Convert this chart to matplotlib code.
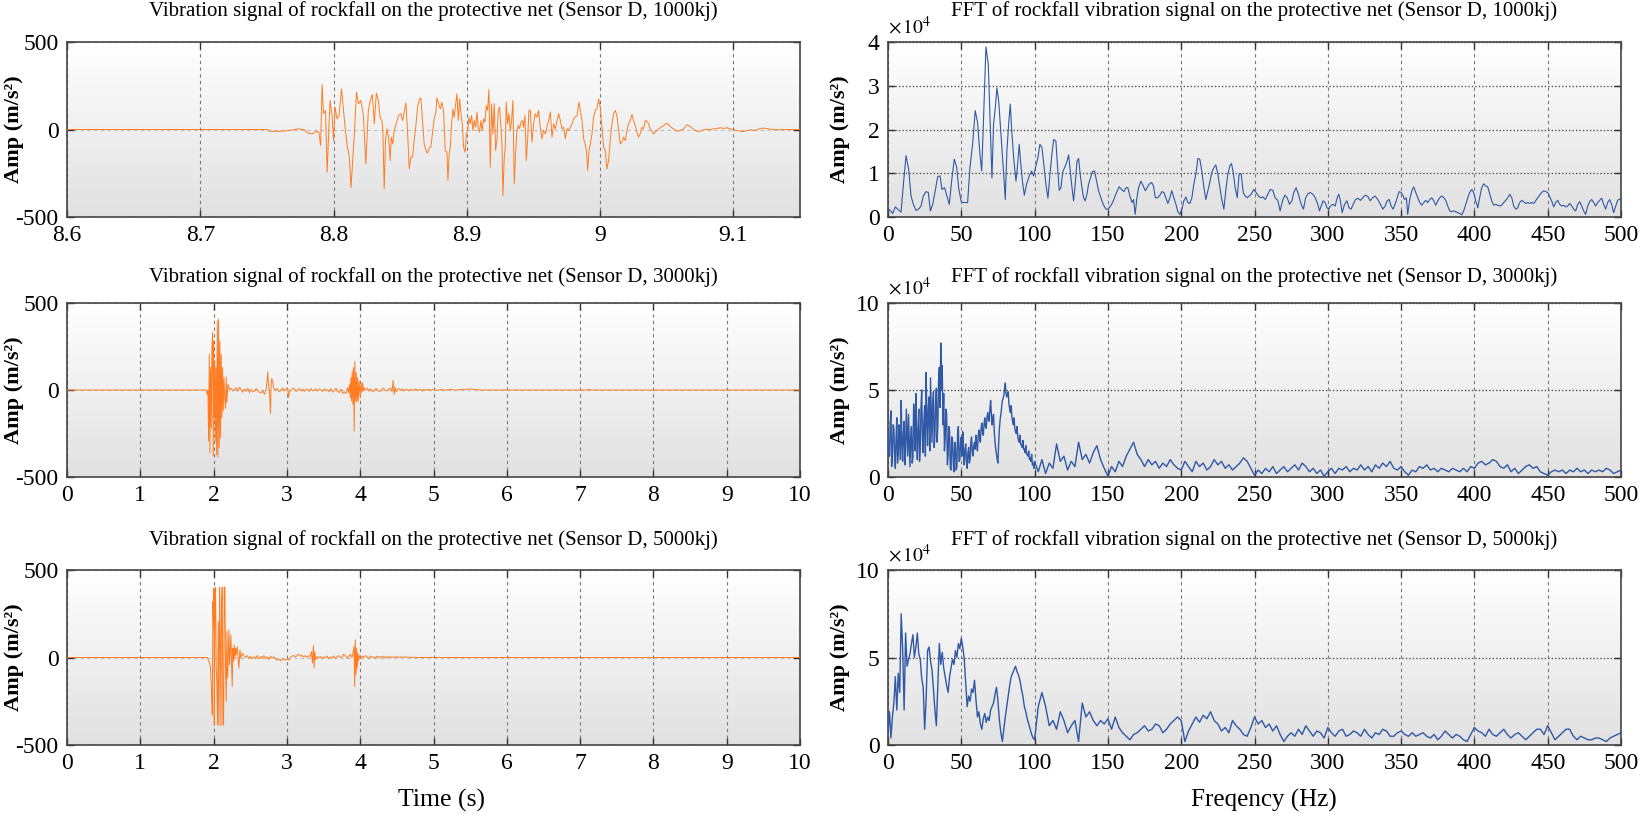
import numpy as np
import matplotlib.pyplot as plt
from matplotlib.colors import LinearSegmentedColormap

plt.rcParams['font.family'] = ['Liberation Serif', 'DejaVu Serif']
plt.rcParams['mathtext.fontset'] = 'stix'

# ---- vibration signal, 1000kj (time in s, amplitude in m/s^2)
t_1000 = [8.600, 8.750, 8.752, 8.759, 8.766, 8.774, 8.778, 8.781, 8.784, 8.787, 8.789,
          8.7903, 8.7914, 8.7925, 8.7940, 8.7952, 8.7963, 8.7974, 8.7989, 8.8000, 8.8011,
          8.8026, 8.8041, 8.8060, 8.8075, 8.8090, 8.8104, 8.8119, 8.8131, 8.8145, 8.8157,
          8.8172, 8.8187, 8.8205, 8.8224, 8.8242, 8.8261, 8.8276, 8.8291, 8.8306, 8.8321,
          8.8336, 8.8350, 8.8363, 8.8370, 8.8380, 8.8390, 8.8400, 8.8413, 8.8425, 8.8433,
          8.8445, 8.8455, 8.8470, 8.8488, 8.8505, 8.8518, 8.8530, 8.8543, 8.8555, 8.8568,
          8.8580, 8.8593, 8.8605, 8.8618, 8.8630, 8.8643, 8.8655, 8.8668, 8.8680, 8.8693,
          8.8705, 8.8718, 8.8730, 8.8743, 8.8755, 8.8768, 8.8776, 8.8788, 8.8801, 8.8813,
          8.8826, 8.8838, 8.8851, 8.8858, 8.8866, 8.8876, 8.8886, 8.8896, 8.8906, 8.8916,
          8.8926, 8.8936, 8.8946, 8.8956, 8.8966, 8.8976, 8.8988, 8.8996, 8.9006, 8.9016,
          8.9026, 8.9036, 8.9046, 8.9056, 8.9066, 8.9076, 8.9086, 8.9096, 8.9106, 8.9116,
          8.9126, 8.9136, 8.9146, 8.9156, 8.9166, 8.9176, 8.9186, 8.9196, 8.9206, 8.9216,
          8.9226, 8.9236, 8.9246, 8.9256, 8.9264, 8.9271, 8.9281, 8.9289, 8.9296, 8.9306,
          8.9316, 8.9326, 8.9336, 8.9346, 8.9356, 8.9366, 8.9376, 8.9386, 8.9396, 8.9406,
          8.9416, 8.9426, 8.9436, 8.9446, 8.9456, 8.9466, 8.9476, 8.9489, 8.9501, 8.9514,
          8.9526, 8.9539, 8.9551, 8.9564, 8.9576, 8.9589, 8.9601, 8.9614, 8.9627, 8.9639,
          8.9652, 8.9664, 8.9677, 8.9689, 8.9702, 8.9714, 8.9727, 8.9739, 8.9752, 8.9764,
          8.9777, 8.9789, 8.9802, 8.9814, 8.9827, 8.9842, 8.9852, 8.9864, 8.9877, 8.9887,
          8.9897, 8.9907, 8.9917, 8.9927, 8.9939, 8.9951, 8.9964, 8.9976, 8.9989, 9.0001,
          9.0014, 9.0026, 9.0039, 9.0051, 9.0064, 9.0076, 9.0089, 9.0101, 9.0114, 9.0126,
          9.0139, 9.0151, 9.0164, 9.0176, 9.0189, 9.0201, 9.0214, 9.0226, 9.0239, 9.0251,
          9.0264, 9.0276, 9.0289, 9.0301, 9.0314, 9.0326, 9.0339, 9.0351, 9.0364, 9.0376,
          9.0389, 9.0401, 9.0414, 9.0426, 9.0452, 9.0477, 9.0502, 9.0527, 9.0552, 9.0577,
          9.0602, 9.0627, 9.0652, 9.0677, 9.0702, 9.0727, 9.0752, 9.0777, 9.0802, 9.0827,
          9.0852, 9.0877, 9.0902, 9.0927, 9.0952, 9.0977, 9.1002, 9.1027, 9.1052, 9.1077,
          9.1102, 9.1127, 9.1152, 9.1177, 9.1202, 9.1227, 9.1278, 9.1328, 9.1378, 9.1428,
          9.1500]
a_1000 = [0, 0, -10, -11, -6, 4, -2, -21, -25, -10, -15,
          -91, 257, 90, 109, -244, -25, 166, 80, -63, 128,
          61, 80, 232, 109, -15, -101, -158, -333, -158, -15,
          213, 147, 166, 80, -196, 109, 166, 200, 32, 208,
          166, 67, 51, -6, -339, -63, 4, -44, -177, -44,
          -82, -6, 32, 80, 90, 51, 99, 152, -6, -225,
          -158, -158, -63, 23, 128, 170, 181, 42, -82, -120,
          -135, -105, -101, -15, 61, 99, 181, 147, 118, 156,
          99, -120, -130, -291, -158, -101, 32, 118, 70, 143,
          204, 51, 175, 90, 32, -101, -130, -25, -6, 70,
          32, 80, -6, 51, 13, 99, 4, -15, 51, -6,
          61, 42, 137, 109, 229, -215, 147, -25, 147, -120,
          -63, 109, 128, 13, -91, -377, -158, -101, 156, 32,
          90, -6, 51, 166, -310, -139, -6, 23, 4, 42,
          51, 13, 80, -177, -63, 109, 112, -72, 32, 90,
          70, 109, 13, -53, -6, -25, 13, 51, 99, -44,
          32, 4, 51, 90, 51, 4, 13, -53, 4, -6,
          13, 32, 61, 70, 80, 156, 109, 51, -53, -82,
          -120, -234, -120, -82, -25, 70, 109, 118, 175, 128,
          13, -101, -120, -225, -177, -63, 32, 90, 109, 80,
          -6, -82, -72, -44, -63, -6, 32, 51, 86, 51,
          23, -15, -44, -25, 13, 4, 51, 48, 32, 4,
          -10, -25, -15, -6, 10, 23, 36, 17, 2, -10,
          -6, 4, 27, 17, 0, -10, -10, -2, 2, -2,
          4, 6, 10, 6, 10, 4, -2, -6, -10, -11,
          -6, -2, -6, -2, 6, 8, 2, -2, 0, 0,
          0]

# ---- vibration signal, 3000kj
t_3000 = [0, 1.900, 1.914, 1.923, 1.932, 1.941, 1.950, 1.959, 1.968, 1.977, 1.986, 1.991,
          1.995, 2.000, 2.009, 2.014, 2.023, 2.032, 2.041, 2.050, 2.059, 2.068, 2.077,
          2.086, 2.095, 2.104, 2.113, 2.122, 2.132, 2.141, 2.150, 2.163, 2.172, 2.181,
          2.195, 2.218, 2.240, 2.263, 2.286, 2.308, 2.331, 2.354, 2.376, 2.399, 2.422,
          2.444, 2.467, 2.490, 2.512, 2.535, 2.558, 2.580, 2.603, 2.626, 2.649, 2.671,
          2.694, 2.717, 2.730, 2.739, 2.748, 2.762, 2.776, 2.785, 2.794, 2.807, 2.821,
          2.839, 2.857, 2.875, 2.898, 2.921, 2.943, 2.966, 2.989, 3.011, 3.020, 3.034,
          3.057, 3.080, 3.102, 3.125, 3.147, 3.170, 3.193, 3.215, 3.238, 3.261, 3.283,
          3.306, 3.329, 3.351, 3.374, 3.397, 3.420, 3.442, 3.465, 3.488, 3.510, 3.533,
          3.556, 3.578, 3.601, 3.624, 3.646, 3.669, 3.692, 3.714, 3.737, 3.760, 3.782,
          3.805, 3.828, 3.841, 3.855, 3.864, 3.873, 3.882, 3.891, 3.900, 3.909, 3.918,
          3.927, 3.937, 3.946, 3.955, 3.964, 3.973, 3.986, 4.000, 4.009, 4.023, 4.032,
          4.045, 4.054, 4.077, 4.100, 4.122, 4.145, 4.168, 4.190, 4.213, 4.236, 4.258,
          4.281, 4.304, 4.327, 4.349, 4.372, 4.395, 4.417, 4.435, 4.449, 4.463, 4.476,
          4.490, 4.508, 4.531, 4.553, 4.576, 4.599, 4.621, 4.644, 4.667, 4.690, 4.712,
          4.735, 4.758, 4.780, 4.803, 4.825, 4.848, 4.871, 4.893, 4.916, 4.939, 4.961,
          4.984, 5.007, 5.050, 5.100, 5.150, 5.188, 5.250, 5.300, 5.350, 5.415, 5.450,
          5.500, 5.550, 5.600, 5.642, 7.100, 7.120, 7.140, 10.0]
a_3000 = [0, 0, -25, -5, -294, 205, -361, 129, -217, 244, 330, -63,
          -380, 282, -159, 167, -294, 129, -371, 397, -386, 407, -332,
          282, -275, 205, -159, 129, -121, 71, -25, -106, 75, -73,
          33, 4, 10, -6, 4, 13, -6, 15, 2, -12, 6,
          -8, 10, -15, 4, -10, -6, 8, -2, -14, -15, -6,
          -25, 4, 52, 106, 33, -6, -136, 33, 67, 42, 10,
          -2, 8, 4, -10, 0, 12, -6, 8, 10, -44, -10,
          -2, 10, 6, -8, -2, 9, -6, 6, -9, 5, 2,
          -7, 8, -5, -2, 6, -6, 7, 0, -8, 6, -4,
          2, -9, 8, -12, -2, 10, -6, -15, 6, -20, -10,
          -21, 13, -15, 33, -44, 71, -63, 109, -83, 129, -236,
          163, -63, 100, -73, 71, -63, 52, -44, 42, -15, 42,
          -6, 13, -2, 10, -6, 6, -10, -2, 8, 2, -8,
          -6, 10, 6, -6, -2, 9, 10, -10, 56, -25, 17,
          -10, 2, 8, -2, 6, -6, 4, 2, -5, 6, -3,
          2, 6, -4, 4, 2, -6, 5, -2, 2, 4, -4,
          3, 2, -3, 4, -2, 2, 3, -2, 3, 2, 5,
          6, 4, 2, 0, 0, 4, 0, 0]

# ---- vibration signal, 5000kj
t_5000 = [0, 1.905, 1.914, 1.927, 1.946, 1.959, 1.973, 1.982, 1.991, 2.000, 2.005, 2.009,
          2.018, 2.027, 2.036, 2.045, 2.054, 2.064, 2.073, 2.082, 2.091, 2.100, 2.109,
          2.118, 2.127, 2.136, 2.145, 2.154, 2.163, 2.172, 2.182, 2.191, 2.200, 2.209,
          2.218, 2.227, 2.236, 2.245, 2.254, 2.263, 2.272, 2.281, 2.291, 2.300, 2.309,
          2.322, 2.336, 2.345, 2.359, 2.372, 2.390, 2.413, 2.436, 2.459, 2.481, 2.504,
          2.527, 2.549, 2.572, 2.595, 2.617, 2.640, 2.663, 2.686, 2.708, 2.731, 2.754,
          2.776, 2.799, 2.822, 2.844, 2.867, 2.890, 2.913, 2.935, 2.958, 2.981, 3.003,
          3.026, 3.049, 3.071, 3.094, 3.117, 3.140, 3.162, 3.185, 3.208, 3.230, 3.253,
          3.276, 3.298, 3.317, 3.335, 3.348, 3.362, 3.371, 3.380, 3.389, 3.412, 3.435,
          3.457, 3.480, 3.503, 3.526, 3.548, 3.571, 3.594, 3.616, 3.639, 3.662, 3.684,
          3.707, 3.730, 3.752, 3.775, 3.798, 3.820, 3.843, 3.866, 3.888, 3.902, 3.916,
          3.925, 3.934, 3.943, 3.952, 3.961, 3.970, 3.979, 3.993, 4.006, 4.025, 4.048,
          4.070, 4.093, 4.116, 4.138, 4.161, 4.184, 4.206, 4.229, 4.252, 4.274, 4.297,
          4.320, 4.342, 4.365, 4.388, 4.410, 4.433, 4.456, 4.478, 4.501, 4.524, 4.546,
          4.569, 4.592, 4.614, 4.637, 4.660, 4.682, 4.705, 4.750, 4.950, 4.960, 4.970,
          6.000, 6.020, 6.040, 10.0]
a_5000 = [0, 0, 0, -13, -32, -61, -213, -328, 320, 168, 396, -385,
          282, 402, -61, -156, -385, 206, -385, 402, 130, -389, 320,
          402, -385, -385, 402, 402, -61, -251, 149, -118, 15, 158,
          -42, 34, 130, -42, -166, 53, -23, 72, -4, 53, 15,
          63, -13, -61, 44, -4, 25, 11, 0, 11, -4, 6,
          -8, 4, -4, 11, -8, 6, -4, 11, -8, 4, -11,
          8, -4, 4, -8, -15, -8, -19, -13, -8, -15, -8,
          -15, 0, 8, 11, 4, 11, 19, 8, 11, 4, 11,
          0, 11, 4, 34, -32, 69, -61, 34, -13, 6, -4,
          6, -8, 4, 0, 8, -8, 4, -4, 8, -4, 4,
          11, 0, 4, 19, 11, -4, 4, 19, 0, 25, 63,
          -166, 101, -99, 53, -61, 25, -19, 11, -4, 8, 0,
          11, 4, -8, 8, 0, 4, -4, 8, -2, 6, 0,
          8, -4, 6, 0, 6, -2, 4, 0, 6, 0, 2,
          4, 0, 5, 0, 3, 0, 2, 0, 0, 3, 0,
          0, 3, 0, 0]

# ---- FFT, 1000kj (frequency in Hz, amplitude in 1e4 m/s^2)
f_1000 = [0.5, 1.8, 3.2, 5.0, 6.6, 8.9, 10.5, 12.3, 14.1, 15.7, 17.3, 19.1, 20.9, 22.5,
          24.1, 25.9, 27.5, 28.9, 30.5, 32.0, 33.9, 35.5, 36.8, 38.6, 40.0, 41.8, 43.4,
          45.2, 46.8, 48.2, 49.8, 50.9, 52.7, 54.3, 55.9, 57.7, 59.5, 61.1, 62.7, 63.9,
          65.2, 66.8, 68.4, 69.8, 70.9, 72.0, 73.2, 74.3, 75.5, 76.6, 77.7, 78.9, 80.0,
          81.1, 82.3, 83.4, 84.5, 85.9, 87.3, 88.4, 89.5, 90.7, 91.8, 93.0, 94.5, 96.4,
          98.0, 99.3, 100.9, 102.3, 103.6, 105.0, 106.4, 107.7, 109.1, 110.5, 111.8, 113.0,
          114.5, 115.7, 116.8, 118.0, 119.1, 120.5, 121.8, 123.2, 124.3, 125.5, 126.6,
          127.7, 128.9, 130.0, 131.1, 132.3, 133.4, 134.5, 135.7, 136.8, 138.2, 139.5,
          140.9, 142.3, 143.6, 145.2, 146.8, 148.6, 150.2, 151.8, 153.2, 154.5, 155.9,
          157.7, 159.3, 160.9, 162.3, 163.6, 165.0, 166.4, 167.5, 168.6, 169.8, 170.9,
          172.5, 174.1, 175.5, 176.8, 178.2, 179.8, 181.1, 182.3, 183.9, 185.5, 186.8,
          188.2, 189.5, 190.9, 192.3, 193.6, 195.0, 196.4, 197.7, 199.1, 200.5, 201.8,
          203.2, 204.5, 205.9, 207.3, 208.6, 210.0, 211.4, 212.7, 214.1, 215.5, 216.8,
          218.2, 219.5, 220.9, 222.3, 223.6, 225.0, 226.4, 227.7, 229.1, 230.5, 231.8,
          233.2, 234.3, 235.5, 236.8, 238.2, 239.5, 240.9, 242.3, 243.6, 245.0, 246.4,
          247.7, 249.5, 251.1, 252.7, 254.1, 255.7, 257.3, 259.1, 260.7, 262.5, 264.1,
          265.9, 267.5, 269.1, 270.7, 272.3, 273.9, 275.5, 276.8, 278.4, 280.0, 281.8,
          283.4, 284.8, 286.4, 288.0, 289.8, 291.4, 293.2, 294.3, 295.5, 296.8, 298.2,
          299.5, 300.7, 301.8, 303.4, 305.0, 306.4, 307.5, 308.6, 309.8, 311.4, 313.0,
          314.5, 315.9, 317.3, 318.9, 320.5, 322.3, 323.9, 325.5, 327.3, 328.9, 330.5,
          332.3, 334.1, 335.9, 337.5, 339.1, 340.5, 341.8, 343.2, 344.5, 345.9, 347.3,
          348.6, 350.0, 351.4, 352.3, 353.6, 354.5, 355.9, 357.3, 358.6, 360.0, 361.4,
          362.7, 364.1, 365.5, 366.8, 368.2, 369.5, 370.9, 372.3, 373.6, 375.0, 376.4,
          377.7, 379.1, 380.5, 381.8, 383.2, 384.5, 385.9, 387.3, 388.6, 390.0, 391.4,
          392.7, 394.1, 395.5, 396.8, 398.2, 399.5, 400.9, 402.3, 403.6, 405.0, 406.4,
          407.7, 409.1, 410.5, 411.8, 413.2, 414.5, 415.9, 417.3, 418.6, 420.0, 421.4,
          422.7, 424.1, 425.5, 426.8, 428.2, 429.5, 430.9, 432.3, 433.6, 435.0, 436.4,
          437.7, 439.1, 440.5, 441.8, 443.2, 444.5, 445.9, 447.3, 448.6, 450.0, 451.4,
          452.7, 454.1, 455.5, 456.8, 458.2, 459.5, 460.9, 462.3, 463.6, 465.0, 466.4,
          467.7, 469.1, 470.5, 471.8, 473.2, 474.5, 475.9, 477.3, 478.6, 480.0, 481.4,
          482.7, 484.1, 485.5, 486.8, 488.2, 489.5, 490.9, 492.3, 493.6, 495.0, 496.4,
          497.7, 500.0]
s_1000 = [0.18, 0.14, 0.08, 0.23, 0.18, 0.11, 0.75, 1.40, 1.09, 0.48, 0.29, 0.15, 0.18, 0.25,
          0.48, 0.58, 0.56, 0.14, 0.29, 0.56, 0.92, 0.94, 0.63, 0.67, 0.50, 0.29, 0.82,
          1.32, 1.15, 0.67, 0.37, 0.33, 0.33, 0.33, 1.13, 1.66, 2.43, 2.16, 1.44, 1.05,
          2.27, 3.89, 3.50, 2.05, 0.89, 2.12, 2.50, 2.95, 2.66, 2.12, 1.59, 0.98, 0.40,
          1.51, 2.12, 2.58, 1.93, 1.28, 0.82, 1.19, 1.66, 1.17, 0.79, 0.50, 0.75, 0.94,
          1.05, 0.94, 1.17, 1.36, 1.66, 1.59, 1.17, 0.75, 0.43, 0.98, 1.44, 1.77,
          1.74, 1.13, 0.61, 0.67, 1.02, 1.13, 1.24, 1.42, 1.05, 0.67, 0.37,
          0.75, 1.27, 1.34, 0.98, 0.67, 0.44, 0.37, 0.52, 0.75, 0.90, 1.04,
          1.05, 0.82, 0.60, 0.44, 0.29, 0.18, 0.18, 0.25, 0.33, 0.44, 0.56,
          0.69, 0.63, 0.58, 0.67, 0.67, 0.48, 0.33, 0.40, 0.06, 0.44, 0.67,
          0.82, 0.71, 0.60, 0.67, 0.75, 0.79, 0.71, 0.44, 0.44, 0.50, 0.58,
          0.56, 0.44, 0.31, 0.44, 0.60, 0.44, 0.29, 0.12, 0.06, 0.18, 0.37,
          0.46, 0.33, 0.31, 0.44, 0.75, 0.98, 1.34, 1.32, 1.04, 0.67, 0.40,
          0.60, 0.79, 1.02, 1.13, 1.19, 0.98, 0.67, 0.40, 0.18, 0.63, 0.98,
          1.17, 1.22, 1.02, 0.67, 0.44, 0.98, 0.99, 0.56, 0.48, 0.44, 0.48,
          0.52, 0.63, 0.56, 0.48, 0.44, 0.46, 0.40, 0.52, 0.63, 0.61, 0.44,
          0.38, 0.14, 0.37, 0.50, 0.44, 0.29, 0.37, 0.56, 0.67, 0.52, 0.29,
          0.18, 0.43, 0.53, 0.56, 0.52, 0.44, 0.29, 0.14, 0.25, 0.37, 0.33,
          0.21, 0.18, 0.25, 0.29, 0.25, 0.44, 0.52, 0.37, 0.10, 0.29, 0.37,
          0.21, 0.18, 0.29, 0.40, 0.43, 0.38, 0.44, 0.50, 0.47, 0.37, 0.44,
          0.48, 0.40, 0.29, 0.18, 0.25, 0.37, 0.40, 0.25, 0.18, 0.29, 0.44,
          0.58, 0.56, 0.48, 0.40, 0.44, 0.06, 0.40, 0.60, 0.69, 0.56, 0.44,
          0.33, 0.27, 0.33, 0.38, 0.33, 0.40, 0.44, 0.37, 0.27, 0.37, 0.44,
          0.48, 0.44, 0.38, 0.25, 0.14, 0.12, 0.14, 0.12, 0.10, 0.08, 0.05,
          0.14, 0.29, 0.44, 0.56, 0.63, 0.56, 0.37, 0.21, 0.44, 0.67, 0.76,
          0.71, 0.69, 0.52, 0.37, 0.27, 0.29, 0.27, 0.25, 0.27, 0.33, 0.38,
          0.44, 0.52, 0.44, 0.25, 0.18, 0.21, 0.33, 0.38, 0.35, 0.31, 0.33,
          0.31, 0.33, 0.31, 0.37, 0.44, 0.50, 0.56, 0.60, 0.58, 0.56, 0.46,
          0.37, 0.23, 0.33, 0.38, 0.29, 0.25, 0.27, 0.23, 0.25, 0.31, 0.25,
          0.18, 0.14, 0.29, 0.35, 0.25, 0.14, 0.06, 0.25, 0.35, 0.40, 0.33,
          0.25, 0.33, 0.38, 0.43, 0.29, 0.18, 0.33, 0.40, 0.29, 0.10, 0.25,
          0.38, 0.43]

# ---- FFT, 3000kj: 0.5 Hz bins below 100 Hz, 2.5 Hz bins from 100 to 500 Hz
s_3000_lo = [2.7, 1.5, 1.2, 3.1, 3.8, 0.6, 1.0, 3.0, 2.8, 1.4,
             0.5, 2.2, 3.4, 0.8, 1.3, 3.0, 2.2, 1.0, 4.4, 2.0,
             0.9, 2.5, 3.2, 0.7, 1.5, 3.9, 2.6, 1.2, 3.6, 2.0,
             0.6, 2.3, 2.9, 0.8, 1.1, 4.2, 3.3, 1.5, 4.8, 2.6,
             1.0, 2.8, 3.9, 0.9, 1.6, 4.0, 5.0, 2.2, 1.4, 3.3,
             4.1, 1.2, 6.0, 3.5, 1.8, 4.0, 4.6, 1.5, 5.7, 3.8,
             2.0, 4.2, 4.9, 1.7, 2.4, 4.4, 5.1, 2.0, 3.0, 5.5,
             6.3, 4.0, 7.7, 5.0, 6.4, 3.0, 4.8, 1.5, 2.2, 3.9,
             3.6, 0.7, 1.2, 2.9, 2.6, 0.5, 0.4, 2.3, 2.1, 0.8,
             0.3, 2.0, 1.8, 0.4, 0.6, 2.5, 2.9, 0.9, 1.0, 2.0,
             2.3, 1.2, 2.6, 1.5, 0.7, 1.6, 1.9, 0.9, 0.5, 1.4,
             1.7, 0.8, 1.0, 2.0, 2.3, 1.4, 1.2, 1.8, 2.0, 1.6,
             2.4, 1.9, 1.5, 2.3, 2.7, 2.2, 2.0, 2.8, 3.1, 2.6,
             2.4, 3.0, 3.4, 2.9, 2.8, 3.4, 3.7, 3.3, 3.2, 3.9,
             4.4, 3.6, 3.0, 3.4, 3.6, 2.6, 2.0, 1.6, 1.3, 1.0,
             0.8, 2.0, 2.8, 3.3, 3.6, 4.0, 4.4, 4.5, 4.7, 5.0,
             5.4, 4.8, 4.6, 4.7, 4.9, 4.2, 3.9, 3.7, 4.1, 3.5,
             3.2, 3.0, 3.4, 2.8, 2.6, 2.5, 2.9, 2.3, 2.1, 2.0,
             2.4, 1.9, 1.8, 1.7, 2.1, 1.6, 1.6, 1.4, 1.8, 1.3,
             1.3, 1.2, 1.5, 1.0, 1.1, 0.9, 1.3, 0.7, 0.8, 0.5]
s_3000_hi = [0.9, 0.3, 1.0, 0.2, 0.8, 0.5, 1.9, 0.9, 1.2, 0.4,
             0.9, 0.6, 2.0, 1.0, 1.3, 0.8, 1.4, 1.8, 1.0, 0.5,
             0.05, 0.6, 0.3, 0.9, 0.6, 1.2, 1.6, 2.0, 1.3, 1.0,
             0.6, 1.0, 0.7, 0.9, 0.5, 0.8, 0.6, 1.0, 0.7, 0.5,
             0.4, 0.9, 0.6, 0.3, 0.9, 0.6, 0.8, 0.4, 0.6, 1.0,
             0.7, 0.9, 0.5, 0.7, 0.4, 0.6, 0.8, 1.1, 0.9, 0.5,
             0.1, 0.4, 0.2, 0.5, 0.3, 0.6, 0.2, 0.4, 0.6, 0.3,
             0.5, 0.7, 0.4, 0.8, 0.6, 0.3, 0.5, 0.2, 0.4, 0.05,
             0.3, 0.5, 0.2, 0.5, 0.4, 0.6, 0.3, 0.5, 0.4, 0.7,
             0.4, 0.6, 0.3, 0.7, 0.5, 0.8, 0.6, 0.9, 0.5, 0.4,
             0.6, 0.3, 0.1, 0.4, 0.3, 0.6, 0.5, 0.7, 0.4, 0.5,
             0.3, 0.5, 0.4, 0.3, 0.5, 0.4, 0.3, 0.5, 0.3, 0.6,
             0.5, 0.8, 0.9, 0.7, 0.8, 1.0, 0.9, 0.6, 0.5, 0.7,
             0.3, 0.5, 0.2, 0.4, 0.6, 0.7, 0.5, 0.6, 0.3, 0.2,
             0.1, 0.3, 0.4, 0.3, 0.4, 0.2, 0.4, 0.3, 0.5, 0.3,
             0.4, 0.2, 0.4, 0.3, 0.4, 0.3, 0.5, 0.4, 0.2, 0.3,
             0.4]

# ---- FFT, 5000kj: 1 Hz bins below 100 Hz, 2.5 Hz bins from 100 to 500 Hz
s_5000_lo = [0.7, 1.9, 0.4, 1.6, 2.4, 3.9, 2.0, 4.1, 3.0, 7.5,
             5.5, 2.0, 6.4, 4.5, 4.9, 5.2, 5.8, 6.3, 5.0, 5.6,
             6.4, 5.2, 4.9, 3.8, 3.3, 0.9, 2.6, 5.4, 5.6, 4.8,
             4.3, 3.2, 2.0, 1.1, 3.5, 5.8, 4.6, 5.3, 4.4, 3.9,
             3.4, 3.0, 3.9, 4.4, 4.9, 4.6, 5.4, 5.0, 5.8, 5.5,
             6.1, 5.6, 4.9, 3.5, 2.2, 2.8, 2.5, 3.2, 3.0, 3.7,
             2.6, 1.6, 1.9, 1.2, 0.9, 1.5, 1.8, 1.3, 1.6, 1.4,
             2.0, 2.2, 2.4, 2.9, 3.3, 2.5, 1.4, 0.7, 0.2, 0.9,
             1.6, 2.2, 2.8, 3.4, 3.9, 4.1, 4.3, 4.5, 4.2, 4.0,
             3.7, 3.2, 2.8, 2.2, 1.9, 1.5, 1.2, 0.9, 0.6, 0.4]
s_5000_hi = [0.3, 2.2, 3.0, 2.2, 1.1, 1.4, 0.9, 1.9, 1.4, 0.7,
             1.1, 1.4, 0.2, 2.4, 1.6, 1.9, 1.4, 1.1, 1.4, 1.2,
             1.5, 0.9, 1.6, 1.0, 0.7, 0.5, 0.3, 0.6, 0.7, 0.9,
             1.1, 0.8, 0.9, 1.2, 1.1, 0.7, 0.9, 1.2, 1.4, 1.6,
             1.4, 0.2, 0.8, 1.2, 1.6, 1.3, 1.7, 1.5, 1.9, 1.4,
             1.2, 0.8, 1.0, 0.7, 1.4, 1.1, 0.9, 0.6, 0.5, 1.0,
             1.6, 1.2, 1.4, 1.0, 1.2, 0.8, 1.1, 0.6, 0.2, 0.5,
             0.7, 0.5, 0.9, 0.6, 1.1, 0.8, 0.5, 0.8, 0.7, 0.4,
             1.0, 0.7, 0.5, 0.8, 0.9, 0.5, 0.6, 0.8, 0.7, 0.5,
             0.9, 0.6, 0.4, 0.7, 0.6, 0.9, 0.8, 0.5, 0.5, 0.7,
             0.8, 0.6, 0.5, 0.7, 0.5, 0.6, 0.7, 0.5, 0.4, 0.6,
             0.3, 0.5, 0.8, 0.6, 0.4, 0.6, 0.5, 0.3, 0.2, 0.6,
             1.0, 0.8, 0.7, 0.5, 0.9, 0.6, 0.5, 0.7, 0.9, 0.6,
             0.4, 0.6, 0.7, 0.5, 0.3, 0.5, 0.7, 0.9, 0.9, 0.6,
             1.1, 0.7, 0.3, 0.5, 0.7, 0.9, 0.9, 0.5, 0.3, 0.5,
             0.4, 0.3, 0.3, 0.4, 0.4, 0.3, 0.2, 0.4, 0.5, 0.6,
             0.7]

f_3000 = np.concatenate([np.arange(0, 100, 0.5), np.linspace(100, 500, len(s_3000_hi))])
f_5000 = np.concatenate([np.arange(0, 100, 1.0), np.linspace(100, 500, len(s_5000_hi))])
s_3000 = s_3000_lo + s_3000_hi
s_5000 = s_5000_lo + s_5000_hi

energies = ['1000kj', '3000kj', '5000kj']
sig_title = 'Vibration signal of rockfall on the protective net (Sensor D, {})'
fft_title = 'FFT of rockfall vibration signal on the protective net (Sensor D, {})'

orange = '#ff7c22'
blue = '#2f58a6'
W, H = 1641, 814


def box(l, t, r, b):
    return [l / W, 1 - b / H, (r - l) / W, (b - t) / H]


bg = LinearSegmentedColormap.from_list('bg', ['#e1e1e1', '#ffffff'])


def style(ax, right=False):
    ax.imshow(np.linspace(1, 0, 256)[:, None], cmap=bg, extent=(0, 1, 0, 1),
              transform=ax.transAxes, aspect='auto', zorder=0)
    ax.tick_params(direction='in', top=True, right=True, length=5, width=1,
                   color='#333333', labelsize=17, pad=6)
    ax.grid(axis='x', linestyle=(0, (3, 3)), color='#7a7a7a', lw=0.8)
    if right:
        ax.grid(axis='y', linestyle=(0, (1, 1.5)), color='#555555', lw=1.0)
    else:
        ax.grid(axis='y', linestyle=(0, (3, 3)), color='#bdbdbd', lw=0.8)
    for sp in ax.spines.values():
        sp.set_color('#444444')
        sp.set_linewidth(1.2)
    ax.set_axisbelow(True)


fig = plt.figure(figsize=(16.41, 8.14), dpi=100)
rows = [(42, 217), (303, 477), (570, 745)]
pads = [19, 15, 18]
sig_t = [t_1000, t_3000, t_5000]
sig_a = [a_1000, a_3000, a_5000]
fft_f = [f_1000, f_3000, f_5000]
fft_s = [s_1000, s_3000, s_5000]
fft_lw = [0.8, 1.0, 1.0]

for i, (top, bot) in enumerate(rows):
    # left: time signal
    ax = fig.add_axes(box(67, top, 800, bot))
    style(ax)
    ax.plot(sig_t[i], sig_a[i], color=orange, lw=0.7, zorder=3)
    ax.set_ylim(-500, 500)
    ax.set_yticks([-500, 0, 500])
    ax.set_yticklabels(['-500', '0', '500'])
    if i == 0:
        ax.set_xlim(8.6, 9.15)
        ax.set_xticks([8.6, 8.7, 8.8, 8.9, 9.0, 9.1])
        ax.set_xticklabels(['8.6', '8.7', '8.8', '8.9', '9', '9.1'])
    else:
        ax.set_xlim(0, 10)
        ax.set_xticks(range(0, 11))
    ax.set_title(sig_title.format(energies[i]), fontsize=15, pad=pads[i])
    fig.text(14 / W, 1 - (top + bot) / 2 / H, 'Amp (m/s²)', rotation=90,
             ha='center', va='center', fontsize=16, fontweight='bold')

    # right: spectrum
    ax = fig.add_axes(box(888, top, 1621, bot))
    style(ax, right=True)
    ax.plot(fft_f[i], fft_s[i], color=blue, lw=fft_lw[i], zorder=3)
    ax.set_xlim(0, 500)
    ax.set_xticks(range(0, 501, 50))
    if i == 0:
        ax.set_ylim(0, 4)
        ax.set_yticks([0, 1, 2, 3, 4])
    else:
        ax.set_ylim(0, 10)
        ax.set_yticks([0, 5, 10])
    ax.set_title(fft_title.format(energies[i]), fontsize=15, pad=pads[i])
    ax.text(0.0, 1.025, r'$\times\,10^{4}$', transform=ax.transAxes,
            fontsize=14, ha='left', va='bottom')
    fig.text(840 / W, 1 - (top + bot) / 2 / H, 'Amp (m/s²)', rotation=90,
             ha='center', va='center', fontsize=16, fontweight='bold')

fig.text(441 / W, 1 - 807 / H, 'Time (s)', ha='center', va='baseline', fontsize=18.5)
fig.text(1264 / W, 1 - 807 / H, 'Freqency (Hz)', ha='center', va='baseline', fontsize=18)

fig.savefig('out.png', dpi=100)
